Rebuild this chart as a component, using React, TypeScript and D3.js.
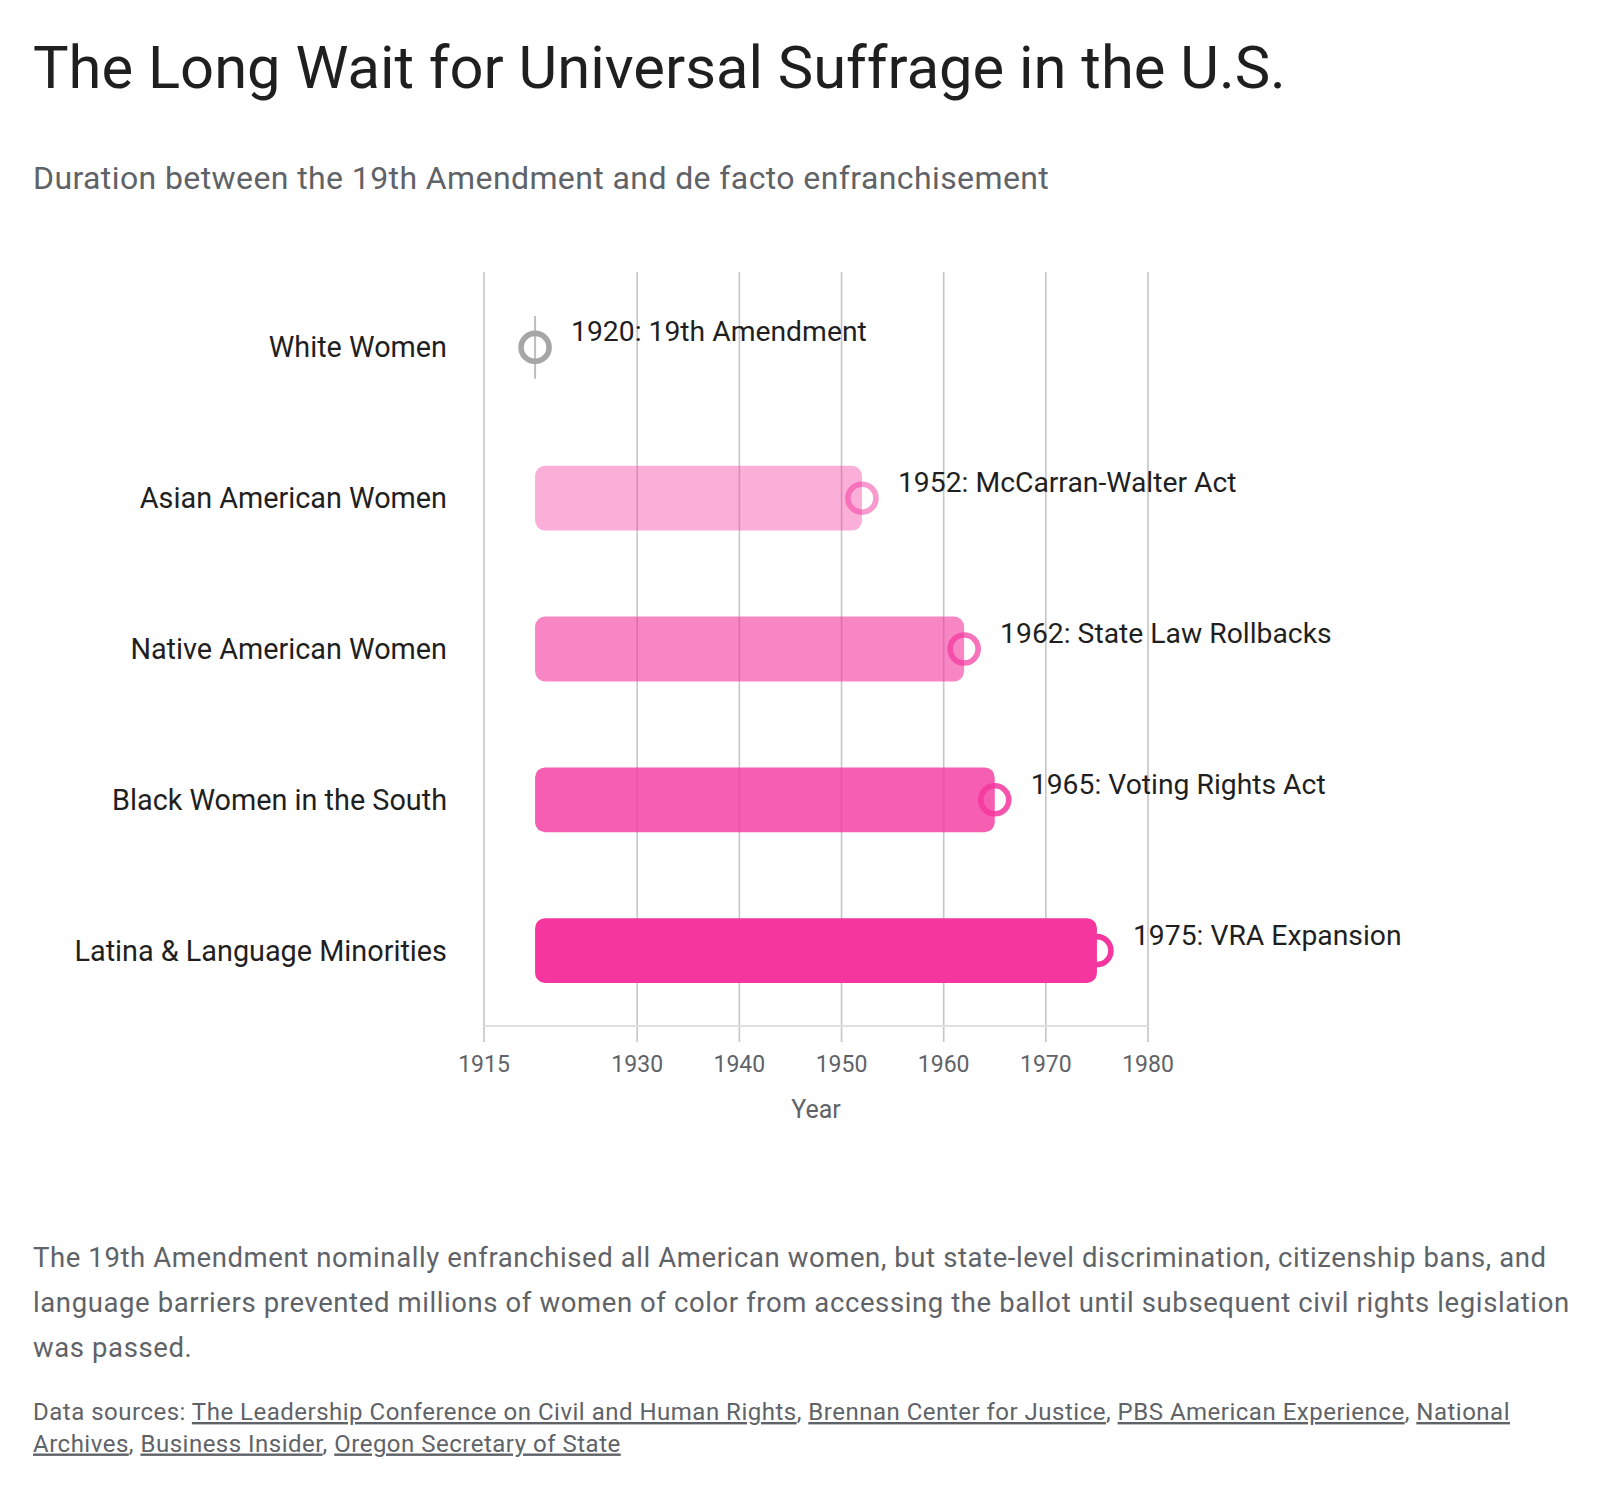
import React, { useEffect } from "react";
import * as d3 from "d3";

const categories = [
  "White Women",
  "Asian American Women",
  "Native American Women",
  "Black Women in the South",
  "Latina & Language Minorities",
];
const startYears = [1920, 1920, 1920, 1920, 1920];
const endYears = [1920, 1952, 1962, 1965, 1975];
const eventLabels = [
  "1920: 19th Amendment",
  "1952: McCarran-Walter Act",
  "1962: State Law Rollbacks",
  "1965: Voting Rights Act",
  "1975: VRA Expansion",
];
const barOpacities = [0, 0.4, 0.6, 0.8, 1];
const ringOpacities = [1, 0.5, 0.7, 0.85, 1];
const tickYears = [1915, 1930, 1940, 1950, 1960, 1970, 1980];

const noteLines = [
  "The 19th Amendment nominally enfranchised all American women, but state-level discrimination, citizenship bans, and",
  "language barriers prevented millions of women of color from accessing the ballot until subsequent civil rights legislation",
  "was passed.",
];
const sourceLine1 = [
  { t: "Data sources: ", link: false },
  { t: "The Leadership Conference on Civil and Human Rights", link: true },
  { t: ", ", link: false },
  { t: "Brennan Center for Justice", link: true },
  { t: ", ", link: false },
  { t: "PBS American Experience", link: true },
  { t: ", ", link: false },
  { t: "National", link: true },
];
const sourceLine2 = [
  { t: "Archives", link: true },
  { t: ", ", link: false },
  { t: "Business Insider", link: true },
  { t: ", ", link: false },
  { t: "Oregon Secretary of State", link: true },
];

const PINK = "#f4369e";
const FONT = "Roboto, 'Noto Sans', sans-serif";

export default function App() {
  useEffect(() => {
    document.body.style.margin = "0";
  }, []);

  const W = 1600;
  const H = 1492;
  const x = d3.scaleLinear().domain([1915, 1980]).range([484, 1148]);
  const y = d3
    .scaleBand<string>()
    .domain(categories)
    .range([272, 1026])
    .paddingInner(0.57)
    .paddingOuter(0.285);
  const axisY = 1026;
  const gridTop = 272;
  const tickBottom = 1042;

  return (
    <svg width={W} height={H} style={{ display: "block", background: "#fff" }} fontFamily={FONT}>
      <text x={33} y={88} fontSize={59.7} fill="#1f1f1f">
        The Long Wait for Universal Suffrage in the U.S.
      </text>
      <text x={33} y={189} fontSize={32} letterSpacing={0.4} fill="#5f6368">
        Duration between the 19th Amendment and de facto enfranchisement
      </text>

      {/* gridlines */}
      {tickYears.map((t) => (
        <line
          key={"g" + t}
          x1={x(t)}
          x2={x(t)}
          y1={gridTop}
          y2={tickBottom}
          stroke="#c6c6c6"
          strokeWidth={1.6}
        />
      ))}
      <line x1={x(1915)} x2={x(1980)} y1={axisY} y2={axisY} stroke="#e0e0e0" strokeWidth={2} />
      {tickYears.map((t) => (
        <text
          key={"t" + t}
          x={x(t)}
          y={1072}
          fontSize={23}
          fill="#5f6368"
          textAnchor="middle"
        >
          {t}
        </text>
      ))}
      <text x={(x(1915) + x(1980)) / 2} y={1118} fontSize={25} fill="#5f6368" textAnchor="middle">
        Year
      </text>

      {/* category labels */}
      {categories.map((c) => (
        <text
          key={"l" + c}
          x={447}
          y={(y(c) as number) + y.bandwidth() / 2}
          dy="0.35em"
          fontSize={28.8}
          fill="#1f1f1f"
          textAnchor="end"
        >
          {c}
        </text>
      ))}

      {/* bars */}
      {categories.map((c, i) =>
        endYears[i] > startYears[i] ? (
          <rect
            key={"b" + c}
            x={x(startYears[i])}
            y={y(c) as number}
            width={x(endYears[i]) - x(startYears[i])}
            height={y.bandwidth()}
            rx={10}
            fill={PINK}
            fillOpacity={barOpacities[i]}
          />
        ) : (
          <line
            key={"b" + c}
            x1={x(startYears[i])}
            x2={x(startYears[i])}
            y1={(y(c) as number) + 1}
            y2={(y(c) as number) + y.bandwidth() - 1}
            stroke="#bdbdbd"
            strokeWidth={2}
          />
        )
      )}

      {/* end markers */}
      {categories.map((c, i) => (
        <circle
          key={"c" + c}
          cx={x(endYears[i])}
          cy={(y(c) as number) + y.bandwidth() / 2}
          r={14}
          fill="none"
          stroke={i === 0 ? "#a6a6a6" : PINK}
          strokeOpacity={ringOpacities[i]}
          strokeWidth={5.6}
        />
      ))}

      {/* event labels */}
      {categories.map((c, i) => (
        <text
          key={"e" + c}
          x={x(endYears[i]) + 36}
          y={(y(c) as number) + y.bandwidth() / 2 - 6}
          fontSize={28.3}
          fill="#1f1f1f"
        >
          {eventLabels[i]}
        </text>
      ))}

      {/* note */}
      {noteLines.map((l, i) => (
        <text key={"n" + i} x={33} y={1267 + i * 45} fontSize={27.5} letterSpacing={0.6} fill="#5f6368">
          {l}
        </text>
      ))}

      {[sourceLine1, sourceLine2].map((line, li) => (
        <text key={"s" + li} x={33} y={1420 + li * 31.5} fontSize={24} letterSpacing={0.5} fill="#5f6368">
          {line.map((seg, si) => (
            <tspan key={si} style={seg.link ? { textDecoration: "underline" } : undefined}>
              {seg.t}
            </tspan>
          ))}
        </text>
      ))}
    </svg>
  );
}
